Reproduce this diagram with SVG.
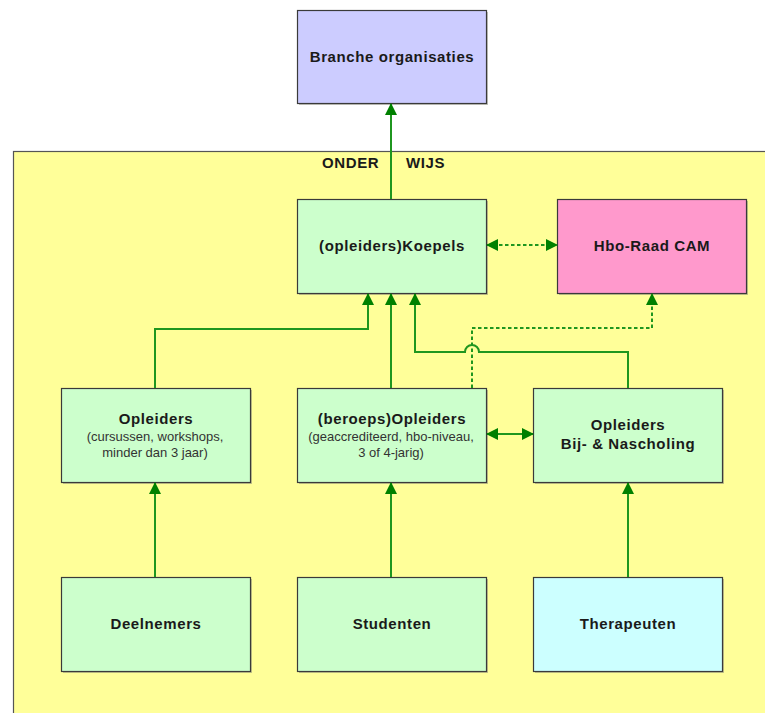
<svg xmlns="http://www.w3.org/2000/svg" width="765" height="713" viewBox="0 0 765 713">
<style>
.box{stroke:#3a3a3a;stroke-width:1.2}
.shadow{fill:#8a8a7a;opacity:0.5}
.t{font-family:"Liberation Sans",Arial,sans-serif;font-weight:bold;font-size:15px;letter-spacing:0.6px;fill:#1a1a1a;text-anchor:middle}
.s{font-family:"Liberation Sans",Arial,sans-serif;font-size:13px;fill:#333;text-anchor:middle}
.c{fill:none;stroke:#1f961f;stroke-width:2}
.d{stroke-dasharray:3.5 2.5}
</style>
<defs>
<marker id="ah" markerUnits="userSpaceOnUse" markerWidth="12" markerHeight="12" refX="11" refY="6" orient="auto-start-reverse" viewBox="0 0 12 12">
<path d="M0,0 L12,6 L0,12 z" fill="#008000"/>
</marker>
</defs>
<rect width="765" height="713" fill="#ffffff"/>
<g id="onderwijs">
<rect x="13.5" y="151.5" width="800" height="600" fill="#ffff99" stroke="#555" stroke-width="1.2"/>
<text class="t" style="text-anchor:start"><tspan x="322" y="168">ONDER</tspan><tspan x="406" y="168">WIJS</tspan></text>
</g>
<g id="branche">
<rect class="shadow" x="299" y="12" width="189" height="93"/>
<rect class="box" x="297.5" y="10.5" width="189" height="93" fill="#ccccff"/>
<text class="t" x="392" y="62">Branche organisaties</text>
</g>
<g id="koepels">
<rect class="shadow" x="299" y="201" width="189" height="94"/>
<rect class="box" x="297.5" y="199.5" width="189" height="94" fill="#ccffcc"/>
<text class="t" x="392" y="251">(opleiders)Koepels</text>
</g>
<g id="hboraad">
<rect class="shadow" x="559" y="201" width="189" height="94"/>
<rect class="box" x="557.5" y="199.5" width="189" height="94" fill="#ff99cc"/>
<text class="t" x="652" y="251">Hbo-Raad CAM</text>
</g>
<g id="opleiders">
<rect class="shadow" x="63" y="390" width="189" height="94"/>
<rect class="box" x="61.5" y="388.5" width="189" height="94" fill="#ccffcc"/>
<text class="t" x="156" y="424">Opleiders</text>
<text class="s" x="155" y="441">(cursussen, workshops,</text>
<text class="s" x="155" y="457">minder dan 3 jaar)</text>
</g>
<g id="beroepsopleiders">
<rect class="shadow" x="299" y="390" width="189" height="94"/>
<rect class="box" x="297.5" y="388.5" width="189" height="94" fill="#ccffcc"/>
<text class="t" x="392" y="424">(beroeps)Opleiders</text>
<text class="s" x="391" y="441">(geaccrediteerd, hbo-niveau,</text>
<text class="s" x="391" y="457">3 of 4-jarig)</text>
</g>
<g id="bijnascholing">
<rect class="shadow" x="535" y="390" width="189" height="94"/>
<rect class="box" x="533.5" y="388.5" width="189" height="94" fill="#ccffcc"/>
<text class="t" x="628" y="430">Opleiders</text>
<text class="t" x="628" y="449">Bij- &amp; Nascholing</text>
</g>
<g id="deelnemers">
<rect class="shadow" x="63" y="579" width="189" height="94"/>
<rect class="box" x="61.5" y="577.5" width="189" height="94" fill="#ccffcc"/>
<text class="t" x="156" y="629">Deelnemers</text>
</g>
<g id="studenten">
<rect class="shadow" x="299" y="579" width="189" height="94"/>
<rect class="box" x="297.5" y="577.5" width="189" height="94" fill="#ccffcc"/>
<text class="t" x="392" y="629">Studenten</text>
</g>
<g id="therapeuten">
<rect class="shadow" x="535" y="579" width="189" height="94"/>
<rect class="box" x="533.5" y="577.5" width="189" height="94" fill="#ccffff"/>
<text class="t" x="628" y="629">Therapeuten</text>
</g>
<g id="connectors">
<path class="c" d="M391,199 V104" marker-end="url(#ah)"/>
<path class="c" d="M155,388 V329 H368 V294" marker-end="url(#ah)"/>
<path class="c" d="M391,388 V294" marker-end="url(#ah)"/>
<path class="c" d="M628,388 V352 H479 A7,7 0 0 0 465,352 H415 V294" marker-end="url(#ah)"/>
<path class="c d" d="M472,388 V328 H652 V294" marker-end="url(#ah)"/>
<path class="c d" d="M487,245 H557" marker-start="url(#ah)" marker-end="url(#ah)"/>
<path class="c" d="M487,434 H533" marker-start="url(#ah)" marker-end="url(#ah)"/>
<path class="c" d="M155,577 V483" marker-end="url(#ah)"/>
<path class="c" d="M391,577 V483" marker-end="url(#ah)"/>
<path class="c" d="M628,577 V483" marker-end="url(#ah)"/>
</g>
</svg>
